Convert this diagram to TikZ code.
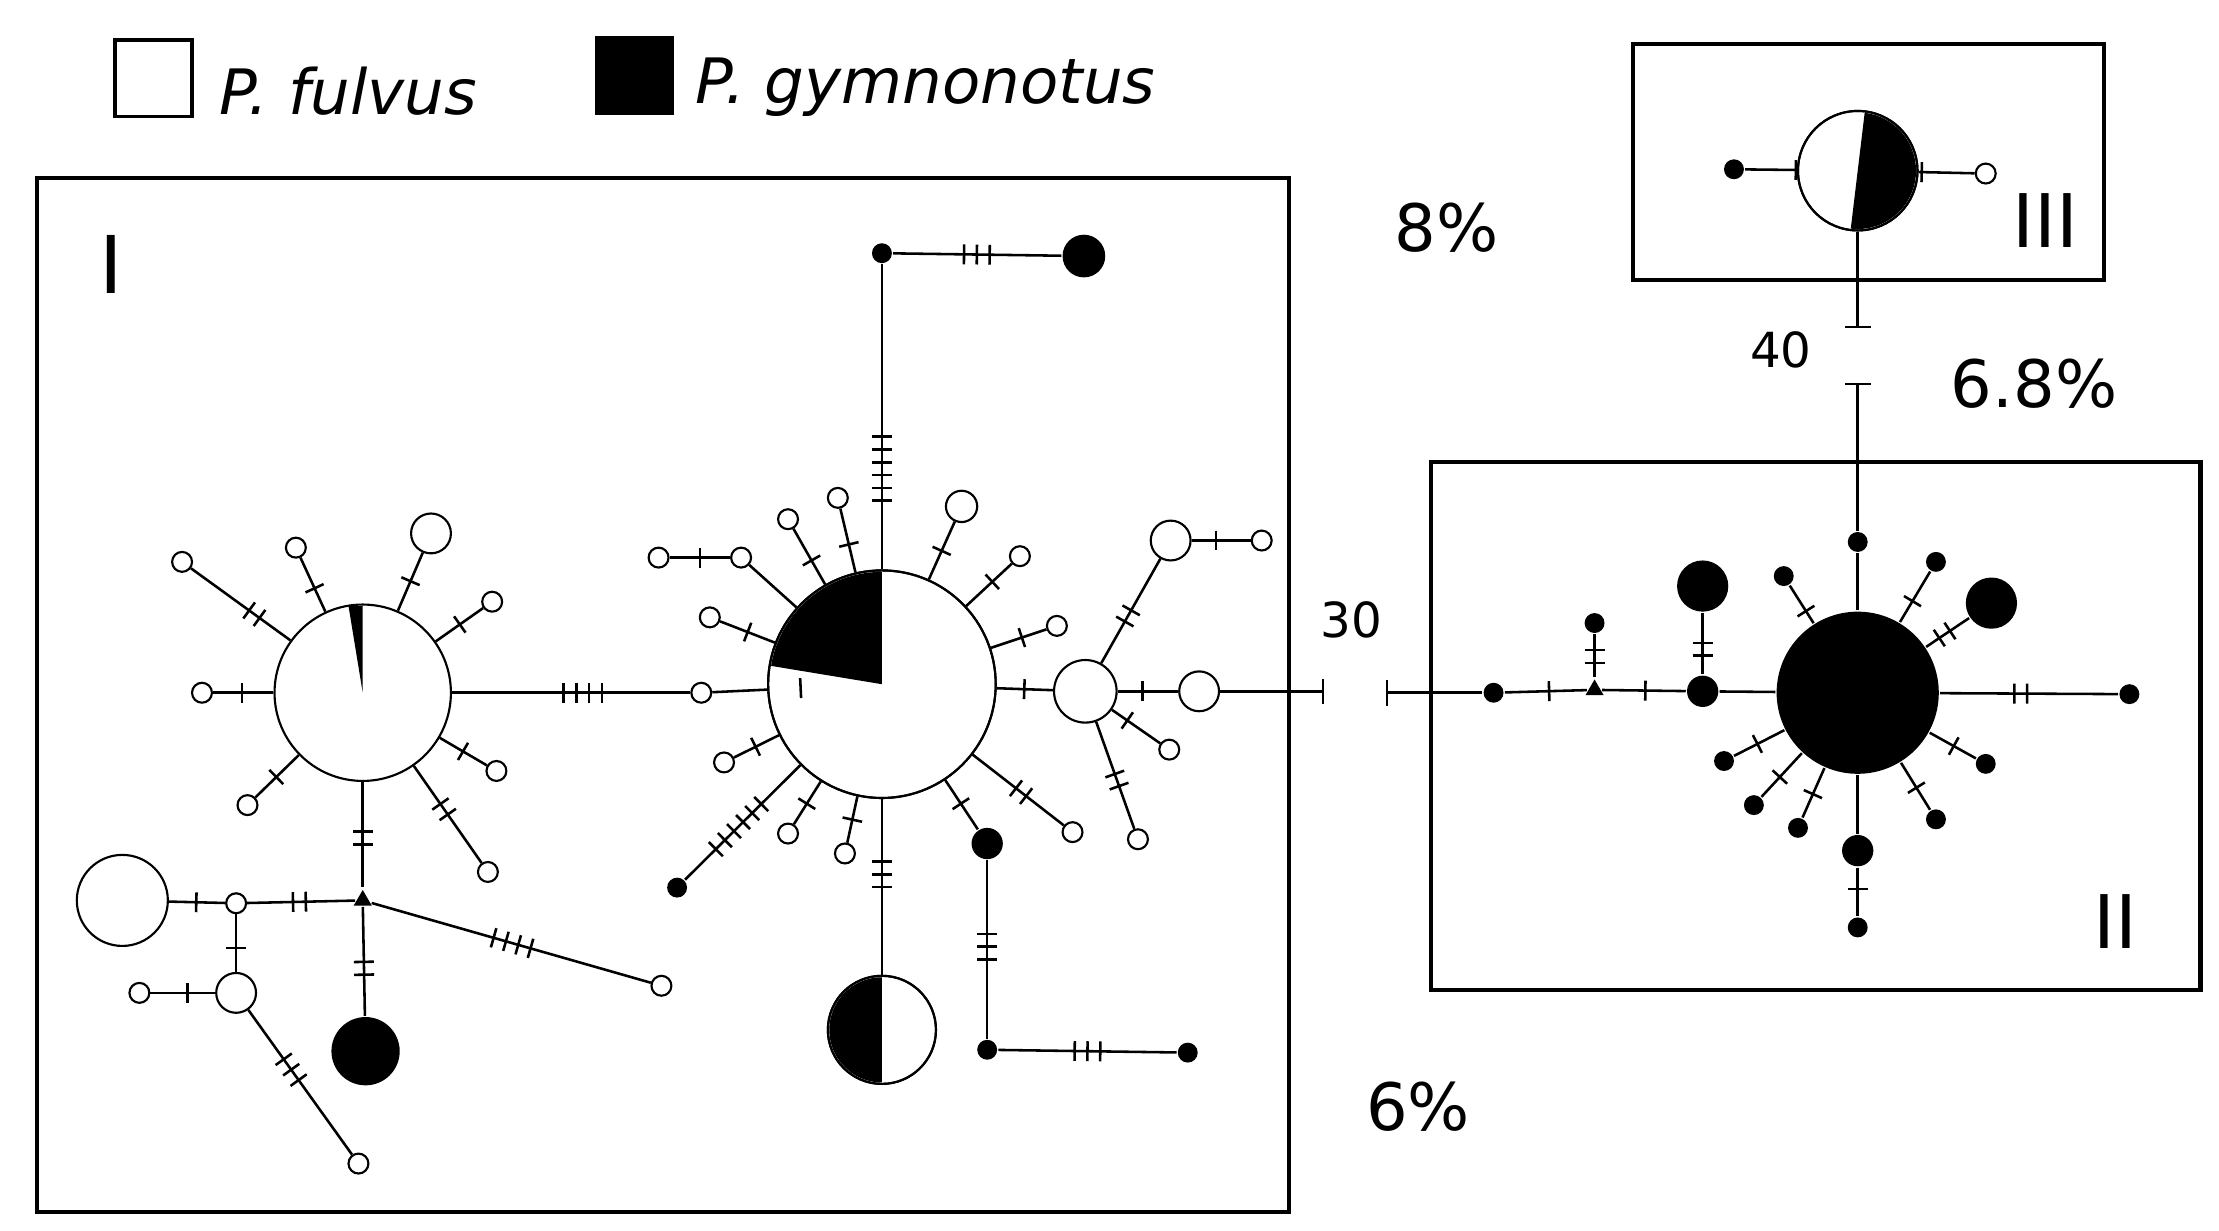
\documentclass[tikz,border=0pt]{standalone}
\usepackage{fontspec}
\setmainfont{DejaVu Sans}
\usetikzlibrary{calc,shapes.geometric}
\newcommand\lnk[4]{%
 \draw (#1) -- (#2);
 \foreach \i in {1,...,#3}{\pgfmathsetmacro\o{(\i-(#3+1)/2)*9}
 \draw ($(#1)!#4!(#2)!\o pt!(#2)!7pt!90:(#2)$) -- ($(#1)!#4!(#2)!\o pt!(#2)!7pt!-90:(#2)$);}}
\begin{document}
\begin{tikzpicture}[x=1pt,y=-1pt,line width=1.8pt,
 o/.style={circle,draw,fill=white,inner sep=0,minimum size=14pt,line width=1.5pt},
 f/.style={circle,fill=black,inner sep=0,minimum size=14pt},
 tri/.style={isosceles triangle,shape border rotate=90,fill=black,inner sep=0,minimum width=12pt,minimum height=11pt,isosceles triangle apex angle=60},
 lab/.style={font=\fontsize{46}{50}\selectfont}]
\useasboundingbox (0,0) rectangle (1560,865);
% legend
\node[draw,line width=2.5pt,minimum size=54pt,inner sep=0] (lw) at (108,55) {};
\node[anchor=west,lab,font=\fontsize{44}{50}\selectfont\itshape] (tw) at (150,64) {P. fulvus};
\node[fill=black,minimum size=56pt,inner sep=0] (lb) at (446,53) {};
\node[anchor=west,font=\fontsize{44}{50}\selectfont\itshape] (tb) at (485,61) {P. gymnonotus};
% boxes
\draw[line width=3pt] (26,125) rectangle (906,852);
\draw[line width=3pt] (1148,31) rectangle (1479,197);
\draw[line width=3pt] (1006,325) rectangle (1547,696);
\node[font=\fontsize{56}{60}\selectfont] (lI) at (78,186) {I};
\node[font=\fontsize{52}{60}\selectfont] (lIII) at (1438,155) {III};
\node[font=\fontsize{52}{60}\selectfont] (lII) at (1487,648) {II};
\node[lab] (p8) at (1017,160) {8\%};
\node[lab] (p68) at (1430,270) {6.8\%};
\node[lab] (p6) at (997,778) {6\%};
\node[font=\fontsize{34}{40}\selectfont] (n40) at (1252,246) {40};
\node[font=\fontsize{34}{40}\selectfont] (n30) at (950,436) {30};
% ---- cluster I left
\node[o,minimum size=124pt] (L) at (255,487) {};
\fill (255,487) -- (255,426) -- (245,426) -- cycle;
\node[o] (l1) at (128,395) {}; \lnk{L}{l1}{2}{0.6}
\node[o] (l2) at (208,385) {}; \lnk{L}{l2}{1}{0.72}
\node[o,minimum size=28pt] (l3) at (303,375) {}; \lnk{L}{l3}{1}{0.7}
\node[o] (l4) at (346,423) {}; \lnk{L}{l4}{1}{0.75}
\node[o] (l5) at (142,487) {}; \lnk{L}{l5}{1}{0.75}
\node[o] (l6) at (174,566) {}; \lnk{L}{l6}{1}{0.75}
\node[o] (l7) at (349,542) {}; \lnk{L}{l7}{1}{0.75}
\node[o] (l8) at (343,613) {}; \lnk{L}{l8}{2}{0.65}
\node[o] (s1) at (493,487) {}; \lnk{L}{s1}{4}{0.65}
\node[tri] (T) at (255,633) {}; \lnk{L}{T}{2}{0.7}
\node[o] (t1) at (166,635) {}; \lnk{T}{t1}{2}{0.5}
\node[o,minimum size=64pt] (t2) at (86,633) {}; \lnk{t1}{t2}{1}{0.35}
\node[o,minimum size=28pt] (t3) at (166,698) {}; \lnk{t1}{t3}{1}{0.5}
\node[o] (t4) at (98,698) {}; \lnk{t3}{t4}{1}{0.5}
\node[o] (t5) at (252,818) {}; \lnk{t3}{t5}{3}{0.45}
\node[f,minimum size=48pt] (t6) at (257,739) {}; \lnk{T}{t6}{2}{0.45}
\node[o] (t7) at (465,693) {}; \lnk{T}{t7}{4}{0.5}
% ---- cluster I centre
\node[o,minimum size=160pt] (M) at (620,481) {};
\begin{scope}\clip (620,481) -- (620,380) -- (505,380) -- (505,462) -- cycle;
\fill (620,481) circle[radius=79];\end{scope}
\draw[line width=1.5pt] (620,481) circle[radius=80];
\lnk{s1}{M}{1}{0.55}
\node[f] (m1) at (620,178) {}; \lnk{M}{m1}{6}{0.5}
\node[f,minimum size=30pt] (m2) at (762,180) {}; \lnk{m1}{m2}{3}{0.47}
\node[o] (a1) at (521,392) {}; \lnk{M}{a1}{1}{0.55}
\node[o] (a2) at (463,392) {}; \lnk{a1}{a2}{1}{0.5}
\node[o] (m3) at (554,365) {}; \lnk{M}{m3}{1}{0.75}
\node[o] (m4) at (589,350) {}; \lnk{M}{m4}{1}{0.75}
\node[o] (m5) at (499,434) {}; \lnk{M}{m5}{1}{0.78}
\node[o,minimum size=22pt] (m6) at (676,356) {}; \lnk{M}{m6}{1}{0.75}
\node[o] (m7) at (717,391) {}; \lnk{M}{m7}{1}{0.8}
\node[o] (m8) at (743,440) {}; \lnk{M}{m8}{1}{0.8}
\node[o] (m9) at (509,536) {}; \lnk{M}{m9}{1}{0.8}
\node[f] (m10) at (476,624) {}; \lnk{M}{m10}{6}{0.7}
\node[o] (m11) at (554,586) {}; \lnk{M}{m11}{1}{0.8}
\node[o] (m12) at (594,600) {}; \lnk{M}{m12}{1}{0.8}
\node[o,minimum size=76pt] (H) at (620,724) {};
\begin{scope}\clip (570,680) rectangle (620,770);\fill (620,724) circle[radius=37];\end{scope}
\draw[line width=1.5pt] (620,724) circle[radius=38];
\lnk{M}{H}{3}{0.55}
\node[f,minimum size=22pt] (m13) at (694,593) {}; \lnk{M}{m13}{1}{0.75}
\node[f] (m14) at (694,738) {}; \lnk{m13}{m14}{3}{0.5}
\node[f] (m15) at (835,740) {}; \lnk{m14}{m15}{3}{0.5}
\node[o] (m16) at (754,585) {}; \lnk{M}{m16}{2}{0.73}
\node[o,minimum size=44pt] (R) at (763,486) {}; \lnk{M}{R}{1}{0.7}
\node[o,minimum size=28pt] (r1) at (823,380) {}; \lnk{R}{r1}{2}{0.5}
\node[o] (r2) at (887,380) {}; \lnk{r1}{r2}{1}{0.5}
\node[o,minimum size=28pt] (r3) at (843,486) {}; \lnk{R}{r3}{1}{0.5}
\node[o] (r4) at (822,527) {}; \lnk{R}{r4}{1}{0.5}
\node[o] (r5) at (800,590) {}; \lnk{R}{r5}{2}{0.6}
\coordinate (e1) at (930,486);
\draw (r3) -- (e1); \draw (930,477) -- (930,495);
% ---- cluster II
\coordinate (e2) at (975,487);
\draw (975,478) -- (975,496);
\node[f,minimum size=114pt] (B) at (1306,487) {};
\node[f] (b1) at (1050,487) {}; \draw (e2) -- (b1);
\node[tri] (T2) at (1121,485) {}; \lnk{b1}{T2}{1}{0.55}
\node[f,minimum size=22pt] (b2) at (1197,486) {}; \lnk{T2}{b2}{1}{0.47}
\draw (b2) -- (B);
\node[f] (b3) at (1121,438) {}; \lnk{T2}{b3}{2}{0.5}
\node[f,minimum size=36pt] (b4) at (1197,412) {}; \lnk{b2}{b4}{2}{0.4}
\node[f] (b5) at (1306,381) {}; \lnk{B}{b5}{1}{0.5}
\coordinate (c1) at (1306,270);
\draw (c1) -- (b5); \draw (1297,270) -- (1315,270);
\node[f] (b6) at (1254,405) {}; \lnk{B}{b6}{1}{0.7}
\node[f] (b7) at (1361,395) {}; \lnk{B}{b7}{1}{0.7}
\node[f,minimum size=36pt] (b8) at (1400,424) {}; \lnk{B}{b8}{2}{0.65}
\node[f] (b9) at (1497,488) {}; \lnk{B}{b9}{2}{0.6}
\node[f] (b10) at (1396,537) {}; \lnk{B}{b10}{1}{0.75}
\node[f] (b11) at (1361,576) {}; \lnk{B}{b11}{1}{0.75}
\node[f,minimum size=22pt] (b12) at (1306,598) {}; \draw (B) -- (b12);
\node[f] (b13) at (1306,652) {}; \lnk{b12}{b13}{1}{0.5}
\node[f] (b14) at (1264,582) {}; \lnk{B}{b14}{1}{0.75}
\node[f] (b15) at (1233,566) {}; \lnk{B}{b15}{1}{0.75}
\node[f] (b16) at (1212,535) {}; \lnk{B}{b16}{1}{0.75}
% ---- cluster III
\node[o,minimum size=84pt] (C) at (1306,120) {};
\begin{scope}\clip (1312,70) -- (1360,70) -- (1360,170) -- (1300,170) -- cycle;
\fill (1306,120) circle[radius=41];\end{scope}
\draw[line width=1.5pt] (1306,120) circle[radius=42];
\node[f] (c2) at (1219,119) {}; \lnk{c2}{C}{1}{0.5}
\node[o] (c3) at (1396,122) {}; \lnk{C}{c3}{1}{0.5}
\coordinate (c4) at (1306,230);
\draw (C) -- (c4); \draw (1297,230) -- (1315,230);
\end{tikzpicture}
\end{document}
